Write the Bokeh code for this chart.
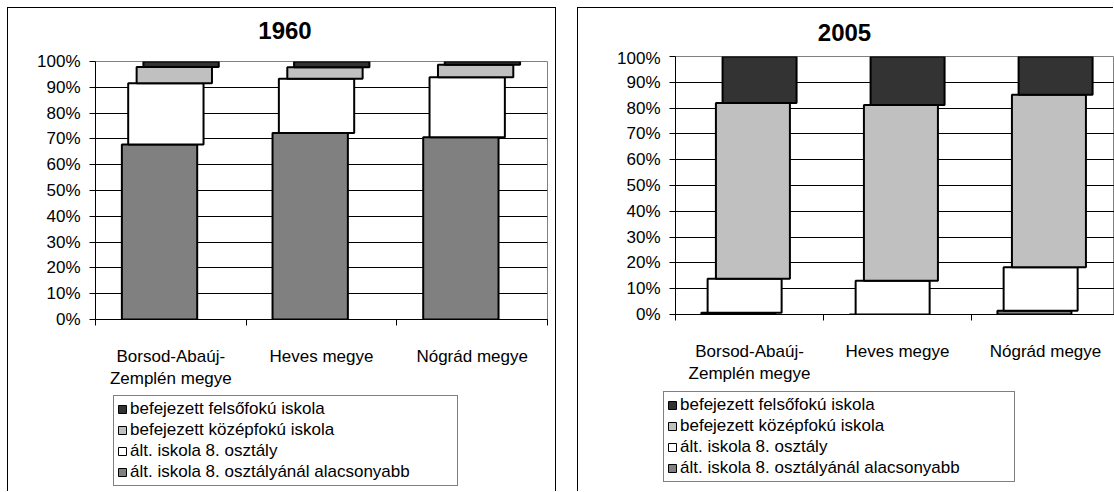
from bokeh.plotting import figure
from bokeh.models import (FixedTicker, NumeralTickFormatter, Legend, LegendItem,
                          Spacer, ColumnDataSource, Label)
from bokeh.layouts import row, column
from bokeh.embed import file_html
from bokeh.resources import INLINE

# ---------------- data ----------------
categories = ["Borsod-Abaúj-Zemplén megye", "Heves megye", "Nógrád megye"]
tick_labels = ["Borsod-Abaúj-\nZemplén megye", "Heves megye", "Nógrád megye"]
series_names = ["ált. iskola 8. osztályánál alacsonyabb",
                "ált. iskola 8. osztály",
                "befejezett középfokú iskola",
                "befejezett felsőfokú iskola"]
years = ["1960", "2005"]

# percentages, bottom to top of the stack
y1960_alacsonyabb = [67.8, 72.3, 70.6]
y1960_alt8 = [23.8, 21.0, 23.3]
y1960_kozep = [6.3, 4.5, 4.8]
y1960_felso = [2.1, 2.2, 1.3]

y2005_alacsonyabb = [0.7, 0.0, 1.5]
y2005_alt8 = [13.2, 13.1, 16.8]
y2005_kozep = [68.1, 68.1, 66.9]
y2005_felso = [18.0, 18.8, 14.8]

# ---------------- styles ----------------
COLORS = ["#808080", "#FFFFFF", "#C0C0C0", "#333333"]
OFFSETS = [-0.075, -0.033, 0.023, 0.068]
FONT = "Liberation Sans"


def make_title(text, width, height, cx, baseline):
    tf = figure(width=width, height=height, output_backend="svg", toolbar_location=None,
                x_axis_type=None, y_axis_type=None, title=None,
                x_range=(0, width), y_range=(0, height),
                min_border=0, background_fill_color="white", border_fill_color="white")
    tf.outline_line_color = None
    tf.grid.visible = False
    tf.add_layout(Label(x=cx, y=height - baseline + 9, text=text, text_font=FONT,
                        text_font_size="24px", text_font_style="bold",
                        text_align="center", text_baseline="alphabetic",
                        text_color="black"))
    # wrapped in a row so that its frame is not aligned with the chart below
    return row(Spacer(width=1, height=height), tf)


def make_chart(series, width, height, x_end, min_left, min_right, min_top, min_bottom):
    p = figure(width=width, height=height, output_backend="svg", toolbar_location=None,
               title=None, x_range=(0, x_end), y_range=(0, 1),
               min_border_left=min_left, min_border_right=min_right,
               min_border_top=min_top, min_border_bottom=min_bottom,
               background_fill_color="white", border_fill_color="white")
    p.outline_line_color = "#808080"
    p.outline_line_width = 1

    n = len(categories)
    centers = [i + 0.5 for i in range(n)]
    bottoms = [0.0] * n
    for k, vals in enumerate(series):
        tops = [b + v / 100.0 for b, v in zip(bottoms, vals)]
        src = ColumnDataSource(dict(x=[c + OFFSETS[k] for c in centers],
                                    bottom=bottoms, top=tops))
        p.vbar(x="x", bottom="bottom", top="top", width=0.5, source=src,
               fill_color=COLORS[k], line_color="black", line_width=2)
        bottoms = tops

    p.xaxis.ticker = FixedTicker(ticks=centers, minor_ticks=list(range(n + 1)))
    p.xaxis.major_label_overrides = {c: t for c, t in zip(centers, tick_labels)}
    p.xaxis.major_tick_line_color = None
    p.xaxis.major_tick_out = 0
    p.xaxis.major_tick_in = 0
    p.xaxis.minor_tick_line_color = "black"
    p.xaxis.minor_tick_out = 6
    p.xaxis.minor_tick_in = 0
    p.xaxis.major_label_standoff = 21
    p.xaxis.axis_line_color = "black"
    p.xaxis.major_label_text_font = FONT
    p.xaxis.major_label_text_font_size = "17px"
    p.xaxis.major_label_text_color = "black"

    p.yaxis.ticker = FixedTicker(ticks=[i / 10 for i in range(11)])
    p.yaxis.formatter = NumeralTickFormatter(format="0%")
    p.yaxis.major_tick_out = 6
    p.yaxis.major_tick_in = 0
    p.yaxis.minor_tick_line_color = None
    p.yaxis.major_label_standoff = 9
    p.yaxis.axis_line_color = "black"
    p.yaxis.major_label_text_font = FONT
    p.yaxis.major_label_text_font_size = "17px"
    p.yaxis.major_label_text_color = "black"

    p.xgrid.grid_line_color = None
    p.ygrid.ticker = FixedTicker(ticks=[i / 10 for i in range(1, 10)])
    p.ygrid.grid_line_color = "black"
    p.ygrid.grid_line_width = 1
    return p


def make_legend(width, height, label_width):
    lf = figure(width=width, height=height, output_backend="svg", toolbar_location=None,
                x_axis_type=None, y_axis_type=None, title=None,
                x_range=(0, 1), y_range=(0, 1),
                min_border=0, background_fill_color="white", border_fill_color="white")
    lf.outline_line_color = None
    lf.grid.visible = False
    rends = []
    for k in range(len(series_names)):
        # off-range swatch renderers, only used for the legend keys
        rends.append(lf.quad(left=[5], right=[6], bottom=[5], top=[6],
                             fill_color=COLORS[k], line_color="black", line_width=1))
    items = [LegendItem(label=series_names[k], renderers=[rends[k]])
             for k in [3, 2, 1, 0]]
    leg = Legend(items=items, location="top_left", orientation="vertical",
                 border_line_color="black", border_line_width=1,
                 background_fill_color="white", background_fill_alpha=1,
                 padding=3, spacing=1, margin=1,
                 glyph_width=10, glyph_height=10, label_standoff=3,
                 label_width=label_width,
                 label_text_font=FONT, label_text_font_size="17px",
                 label_text_color="black")
    lf.add_layout(leg, "center")
    return lf


t1 = make_title(years[0], width=546, height=40, cx=275.5, baseline=31)
p1 = make_chart([y1960_alacsonyabb, y1960_alt8, y1960_kozep, y1960_felso],
                width=547, height=346, x_end=3.0, min_left=87, min_right=8,
                min_top=13, min_bottom=75)
l1 = make_legend(width=443, height=98, label_width=324)

t2 = make_title(years[1], width=535, height=40, cx=265, baseline=32.5)
p2 = make_chart([y2005_alacsonyabb, y2005_alt8, y2005_kozep, y2005_felso],
                width=536, height=342, x_end=2.966, min_left=97, min_right=0,
                min_top=8, min_bottom=76)
l2 = make_legend(width=452, height=102, label_width=331)

panel1 = column(t1, p1, row(Spacer(width=104, height=98), l1),
                styles={"box-shadow": "-1px -1px 0 0 black, 1px -1px 0 0 black"})
panel2 = column(t2, p2, row(Spacer(width=84, height=102), l2),
                styles={"box-shadow": "-1px -1px 0 0 black"})

layout = row(Spacer(width=8, height=492),
             column(Spacer(width=547, height=8), panel1),
             Spacer(width=23, height=492),
             column(Spacer(width=536, height=8), panel2))

open("out.html", "w").write(file_html(layout, INLINE))
